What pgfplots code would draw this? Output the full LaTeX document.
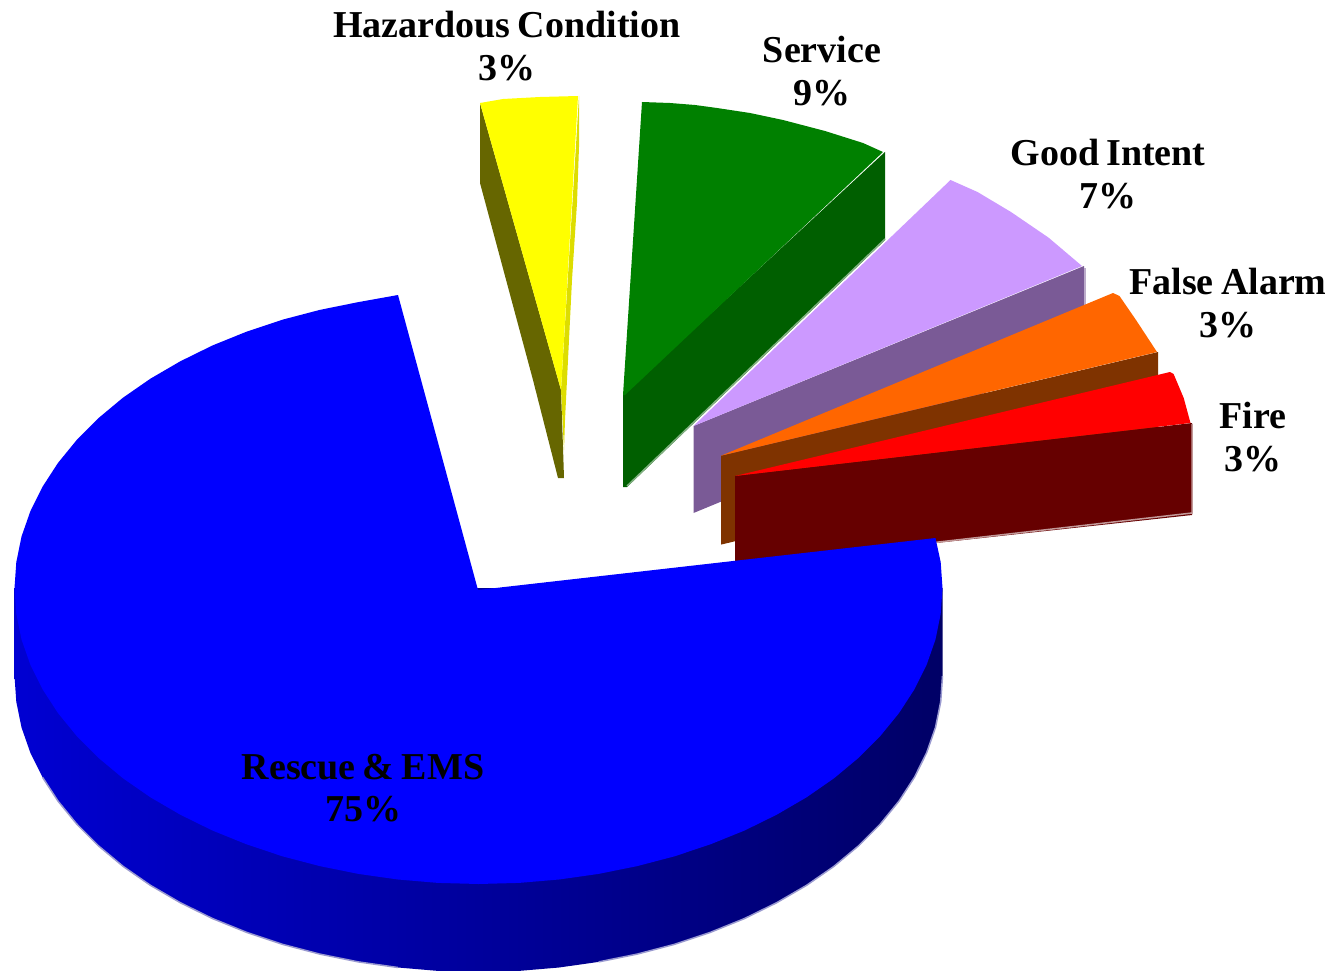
\documentclass[border=0pt]{standalone}
\usepackage{fontspec}
\setmainfont{Liberation Serif}
\usepackage{pgfplots}
\pgfplotsset{compat=1.18}
\definecolor{rescue}{HTML}{0000FF}
\definecolor{sideL}{HTML}{0000D2}
\definecolor{sideM}{HTML}{000066}
\definecolor{haze}{HTML}{9A9AD0}
\definecolor{hyel}{HTML}{FFFF00}
\definecolor{hyelD}{HTML}{666600}
\definecolor{hyelM}{HTML}{DDDD00}
\definecolor{serv}{HTML}{008000}
\definecolor{servD}{HTML}{005F00}
\definecolor{good}{HTML}{CC99FF}
\definecolor{goodD}{HTML}{7A5A96}
\definecolor{fals}{HTML}{FF6600}
\definecolor{falsD}{HTML}{7F3300}
\definecolor{fire}{HTML}{FF0000}
\definecolor{fireD}{HTML}{660000}
\newcommand{\lblfont}{\fontsize{38}{42.5}\selectfont\bfseries\spaceskip .19em\relax}
\begin{document}
\begin{tikzpicture}
\useasboundingbox (0,0) rectangle (1339pt,971pt);
\begin{axis}[
    scale only axis,
    width=1339pt,
    height=971pt,
    xmin=0, xmax=1339,
    ymin=0, ymax=971,
    y dir=reverse,
    hide axis,
    clip=true,
    nodes={font=\lblfont, text=black, align=center, inner sep=0pt},
]
% hazardous condition
\addplot[fill=hyelD, draw=none] coordinates {(480,103) (480,183) (533,380) (558,478) (564,478) (563,447) (561,390)} --cycle;
\addplot[fill=hyelM, draw=none] coordinates {(579,96) (579,147) (577,203) (572,280) (567,380) (565,420) (564,450) (561,390)} --cycle;
\addplot[fill=hyel, draw=none] coordinates {(480,103) (503,99) (540,97) (578,96) (561,390)} --cycle;
% service
\addplot[fill=servD, draw=none] coordinates {(623,395) (885,152) (885,240) (627,487) (623,487)} --cycle;
\addplot[fill=serv, draw=none] coordinates {(642,102) (670,103) (695,105) (717,108) (750,113) (783,120) (825,131) (863,143) (883,152) (625,395) (623,395)} --cycle;
% good intent
\addplot[fill=goodD, draw=none] coordinates {(693.5,426) (1084,266) (1084,352) (693.5,513)} --cycle;
\addplot[draw=goodD!50, line width=1.5pt] coordinates {(1085,268) (1085,305)};
\addplot[fill=good, draw=none] coordinates {(693.5,426) (950.5,180) (977.5,192) (1011,212) (1048.5,237.6) (1082,266)} --cycle;
\addplot[draw=servD!50, line width=1.5pt] coordinates {(885,239) (627,486)};
% false alarm
\addplot[fill=falsD, draw=none] coordinates {(721,455.7) (1158,352) (1158,440) (721,544.6)} --cycle;
\addplot[fill=fals, draw=none] coordinates {(721,455.7) (1113,293) (1119.5,296) (1136,320) (1157,352)} --cycle;
% fire
\addplot[fill=fireD, draw=none] coordinates {(735,476) (1192,423) (1192,515) (735,565)} --cycle;
\addplot[draw=fireD!40, line width=1.5pt] coordinates {(1192,424) (1192,513) (930,543)};
\addplot[fill=fire, draw=none] coordinates {(735,476) (1170,372) (1173.6,374) (1183.7,398) (1190.5,423)} --cycle;
% rescue and ems, rim
\addplot[shade, left color=sideL, middle color=sideM, right color=sideM, draw=none] coordinates {
    (14.5,588) (14.5,676) (16.3,701.8) (21.5,727.4) (30.3,752.6) (42.5,777.2) (58,801.1)
    (76.7,824) (98.4,845.8) (123,866.3) (150.4,885.3) (180.3,902.7) (212.4,918.5)
    (246.5,932.3) (282.4,944.3) (319.8,954.1) (358.4,961.9) (397.9,967.5) (438,970.9)
    (478.5,972) (519,970.9) (559.1,967.5) (598.6,961.9) (637.2,954.1) (674.6,944.3)
    (710.5,932.3) (744.6,918.5) (776.7,902.7) (806.6,885.3) (834,866.3) (858.6,845.8)
    (880.3,824) (899,801.1) (914.5,777.2) (926.7,752.6) (935.5,727.4) (940.7,701.8)
    (942.5,676) (942.5,588)} --cycle;
\addplot[draw=haze, line width=1.5pt] coordinates {
    (42.5,777.2) (58,801.1) (76.7,824) (98.4,845.8) (123,866.3) (150.4,885.3) (180.3,902.7)
    (212.4,918.5) (246.5,932.3) (282.4,944.3) (319.8,954.1) (358.4,961.9) (397.9,967.5)};
\addplot[draw=haze, line width=1.5pt] coordinates {
    (598.6,961.9) (637.2,954.1) (674.6,944.3) (710.5,932.3) (744.6,918.5) (776.7,902.7)
    (806.6,885.3) (834,866.3) (858.6,845.8) (880.3,824) (899,801.1) (914.5,777.2)
    (926.7,752.6) (935.5,727.4) (940.7,701.8) (942.5,676)};
% rescue and ems, top
\addplot[fill=rescue, draw=none] coordinates {
    (478,590) (398,295) (358.4,302.1) (319.8,309.9) (282.4,319.7) (246.5,331.7) (212.4,345.5)
    (180.3,361.3) (150.4,378.7) (123,397.7) (98.4,418.2) (76.7,440) (58,462.9) (42.5,486.8)
    (30.3,511.4) (21.5,536.6) (16.3,562.2) (14.5,588) (16.3,613.8) (21.5,639.4) (30.3,664.6)
    (42.5,689.2) (58,713.1) (76.7,736) (98.4,757.8) (123,778.3) (150.4,797.3) (180.3,814.7)
    (212.4,830.5) (246.5,844.3) (282.4,856.3) (319.8,866.1) (358.4,873.9) (397.9,879.5)
    (438,882.9) (478.5,884) (519,882.9) (559.1,879.5) (598.6,873.9) (637.2,866.1)
    (674.6,856.3) (710.5,844.3) (744.6,830.5) (776.7,814.7) (806.6,797.3) (834,778.3)
    (858.6,757.8) (880.3,736) (899,713.1) (914.5,689.2) (926.7,664.6) (935.5,639.4)
    (940.7,613.8) (942.5,588) (940.7,562.2) (935.5,538)} --cycle;
% labels
\node at (axis cs:507,46) {Hazardous Condition\\3\%};
\node at (axis cs:822,71) {Service\\9\%};
\node at (axis cs:1108,174) {Good Intent\\7\%};
\node at (axis cs:1228,303) {False Alarm\\3\%};
\node at (axis cs:1253,437) {Fire\\3\%};
\node at (axis cs:363,788) {Rescue \& EMS\\75\%};
\end{axis}
\end{tikzpicture}
\end{document}
